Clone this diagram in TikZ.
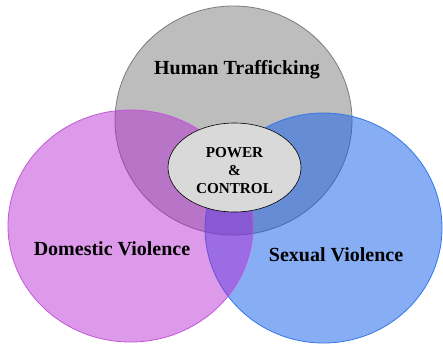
\documentclass[tikz,border=0pt]{standalone}
\usepackage{fontspec}
\setmainfont{Liberation Serif}
\usetikzlibrary{shapes.geometric}
\definecolor{grayfill}{RGB}{189,189,189}
\definecolor{graydraw}{RGB}{125,125,125}
\definecolor{magfill}{RGB}{180,29,209}
\definecolor{magdraw}{RGB}{195,85,215}
\definecolor{bluefill}{RGB}{15,93,235}
\definecolor{bluedraw}{RGB}{50,120,230}
\definecolor{ellfill}{RGB}{217,217,217}
\tikzset{
  venn/.style={ellipse, inner sep=0pt, line width=0.8pt},
  lbl/.style={font=\fontsize{20}{22}\selectfont\bfseries, text=black},
}
\begin{document}
\begin{tikzpicture}[x=1pt,y=-1pt]
\useasboundingbox (0,0) rectangle (443,346);
\node[venn, minimum width=237pt, minimum height=229pt, fill=grayfill, draw=graydraw] (traf) at (233.5,120.5) {};
\node[venn, minimum width=237pt, minimum height=230pt, fill=bluefill, fill opacity=0.5, draw=bluedraw] (sex) at (323.5,228) {};
\node[venn, minimum width=245pt, minimum height=232pt, fill=magfill, fill opacity=0.45, draw=magdraw] (dom) at (130.5,226) {};
\node[ellipse, draw=black, line width=0.6pt, fill=ellfill, minimum width=133pt, minimum height=89pt, inner sep=0pt] (pc) at (234.5,167.5) {};
\node[align=center, font=\fontsize{15.2}{18}\selectfont\bfseries] (pct) at (234.5,171) {POWER\\\&\\CONTROL};
\node[lbl] (trafl) at (237,70) {Human Trafficking};
\node[lbl] (doml) at (112,249) {Domestic Violence};
\node[lbl] (sexl) at (336,255) {Sexual Violence};
\end{tikzpicture}
\end{document}
